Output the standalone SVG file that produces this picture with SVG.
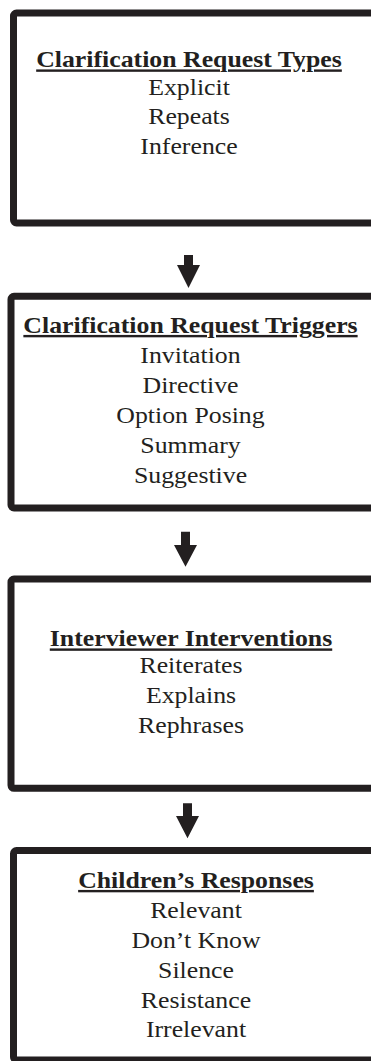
<svg xmlns="http://www.w3.org/2000/svg" width="371" height="1061" viewBox="0 0 371 1061">
<style>
.box{fill:#fff;stroke:#231f20;stroke-width:7}
.t{font-family:"Liberation Serif","Times New Roman",serif;font-size:24px;fill:#231f20;text-anchor:middle}
.h{font-weight:bold;text-decoration:underline}
.arr{fill:#231f20}
</style>
<rect width="371" height="1061" fill="#fff"/>
<g id="connectors">
<path class="arr" d="M184,255 H193 V265 H200 L188.5,288 L177,265 H184 Z"/>
<path class="arr" d="M181,531.7 H190 V545 H197 L185.5,566.7 L174,545 H181 Z"/>
<path class="arr" d="M183,803.3 H192 V816 H199 L187.5,838.3 L176,816 H183 Z"/>
</g>
<g id="node1">
<rect class="box" x="13.5" y="13" width="380" height="210" rx="3"/>
<g transform="translate(189,0) scale(1.075,1)">
<text class="t h" x="0" y="67.5">Clarification Request Types</text>
<text class="t" x="0" y="95">Explicit</text>
<text class="t" x="0" y="124.5">Repeats</text>
<text class="t" x="0" y="154">Inference</text>
</g>
</g>
<g id="node2">
<rect class="box" x="11" y="296.3" width="380" height="211.7" rx="3"/>
<g transform="translate(190.5,0) scale(1.075,1)">
<text class="t h" x="0" y="333">Clarification Request Triggers</text>
<text class="t" x="0" y="363">Invitation</text>
<text class="t" x="0" y="393">Directive</text>
<text class="t" x="0" y="423">Option Posing</text>
<text class="t" x="0" y="453">Summary</text>
<text class="t" x="0" y="483">Suggestive</text>
</g>
</g>
<g id="node3">
<rect class="box" x="11" y="579" width="380" height="209.3" rx="3"/>
<g transform="translate(191,0) scale(1.075,1)">
<text class="t h" x="0" y="646.5">Interviewer Interventions</text>
<text class="t" x="0" y="673.5">Reiterates</text>
<text class="t" x="0" y="703">Explains</text>
<text class="t" x="0" y="733">Rephrases</text>
</g>
</g>
<g id="node4">
<rect class="box" x="13.5" y="850.5" width="380" height="209.5" rx="3"/>
<g transform="translate(196,0) scale(1.075,1)">
<text class="t h" x="0" y="888">Children’s Responses</text>
<text class="t" x="0" y="918">Relevant</text>
<text class="t" x="0" y="948">Don’t Know</text>
<text class="t" x="0" y="978">Silence</text>
<text class="t" x="0" y="1008">Resistance</text>
<text class="t" x="0" y="1037">Irrelevant</text>
</g>
</g>
</svg>
